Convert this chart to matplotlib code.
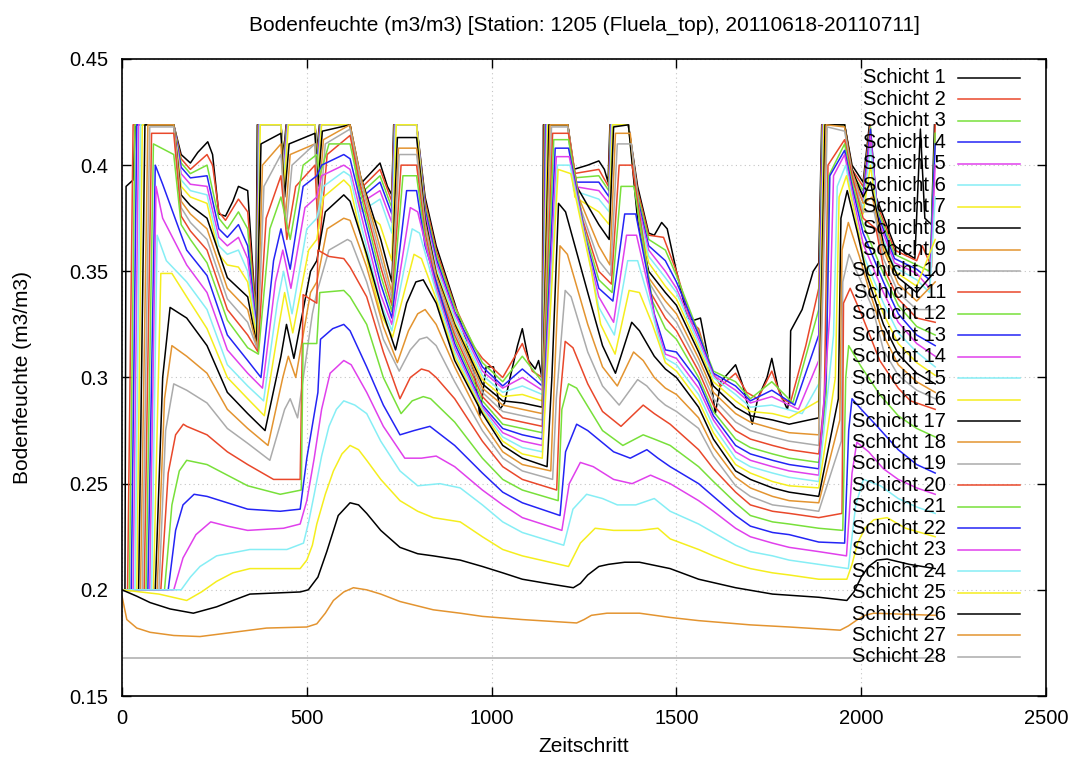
import matplotlib
matplotlib.use("Agg")
import matplotlib.pyplot as plt

plt.rcParams['font.family'] = ['Liberation Sans', 'DejaVu Sans']

title = "Bodenfeuchte (m3/m3) [Station: 1205 (Fluela_top), 20110618-20110711]"
xlabel = "Zeitschritt"
ylabel = "Bodenfeuchte (m3/m3)"

xticks = [0, 500, 1000, 1500, 2000, 2500]
yticks = [0.15, 0.20, 0.25, 0.30, 0.35, 0.40, 0.45]
yticklabels = ["0.15", "0.2", "0.25", "0.3", "0.35", "0.4", "0.45"]

# (zeitschritt, bodenfeuchte), one list per layer
s1 = [(0, .200), (8, .200), (11, .390), (30, .393), (36, .419), (140, .419), (160, .405), (185, .401), (205, .406), (232, .411), (245, .405), (262, .377), (280, .376), (300, .383), (315, .390), (340, .388), (362, .330), (366, .419), (430, .419), (437, .405), (444, .419), (522, .419), (528, .408), (534, .419), (617, .419), (640, .390), (655, .393), (698, .401), (718, .390), (730, .386), (735, .419), (797, .419), (820, .385), (850, .362), (900, .335), (930, .318), (955, .300), (968, .282), (985, .305), (1005, .305), (1022, .285), (1035, .288), (1050, .300), (1070, .315), (1083, .323), (1100, .308), (1118, .304), (1127, .308), (1136, .300), (1140, .419), (1206, .419), (1222, .398), (1260, .400), (1290, .402), (1305, .398), (1315, .392), (1320, .419), (1370, .419), (1395, .390), (1425, .368), (1440, .367), (1460, .373), (1475, .370), (1500, .350), (1530, .328), (1548, .327), (1565, .328), (1585, .310), (1605, .283), (1620, .298), (1640, .302), (1660, .306), (1680, .296), (1705, .278), (1720, .290), (1745, .300), (1758, .309), (1775, .295), (1800, .285), (1806, .290), (1809, .322), (1840, .332), (1870, .350), (1885, .354), (1893, .419), (1955, .419), (1975, .400), (2005, .392), (2022, .419), (2040, .385), (2090, .362), (2145, .356), (2160, .417), (2172, .375), (2190, .372), (2198, .419)]
s2 = [(0, .200), (15, .200), (30, .419), (140, .419), (160, .403), (185, .398), (230, .405), (245, .400), (262, .378), (280, .374), (315, .384), (340, .378), (363, .328), (368, .419), (430, .419), (437, .402), (445, .419), (522, .419), (528, .405), (535, .419), (617, .419), (640, .388), (698, .398), (730, .383), (736, .419), (797, .419), (820, .383), (850, .360), (900, .334), (950, .315), (975, .309), (1030, .300), (1083, .316), (1110, .303), (1137, .300), (1142, .419), (1206, .419), (1222, .396), (1290, .398), (1316, .390), (1321, .419), (1370, .419), (1395, .388), (1425, .367), (1465, .366), (1500, .350), (1540, .326), (1560, .323), (1590, .305), (1620, .296), (1660, .302), (1690, .293), (1720, .290), (1758, .303), (1785, .290), (1808, .288), (1850, .315), (1885, .342), (1894, .419), (1955, .419), (1975, .398), (2005, .390), (2024, .419), (2040, .383), (2090, .360), (2150, .355), (2165, .362), (2190, .352), (2200, .419)]
s3 = [(0, .200), (20, .200), (35, .419), (140, .419), (160, .401), (185, .396), (230, .400), (262, .375), (285, .370), (315, .378), (340, .370), (363, .326), (369, .419), (430, .419), (437, .400), (446, .419), (522, .419), (528, .402), (536, .419), (617, .419), (642, .386), (698, .395), (730, .380), (737, .419), (797, .419), (820, .381), (850, .358), (900, .333), (975, .307), (1030, .298), (1083, .310), (1137, .298), (1144, .419), (1206, .419), (1222, .394), (1290, .395), (1317, .388), (1322, .419), (1370, .419), (1395, .386), (1425, .365), (1470, .360), (1500, .348), (1560, .321), (1600, .303), (1660, .298), (1700, .290), (1758, .298), (1815, .288), (1885, .332), (1895, .419), (1955, .419), (1975, .396), (2005, .388), (2025, .418), (2042, .380), (2090, .358), (2150, .353), (2185, .350), (2200, .415)]
s4 = [(0, .200), (25, .200), (40, .419), (140, .419), (160, .399), (185, .394), (230, .395), (262, .370), (285, .366), (315, .372), (340, .362), (364, .324), (370, .419), (430, .419), (437, .398), (447, .419), (522, .419), (528, .400), (537, .419), (617, .419), (643, .384), (698, .392), (730, .377), (738, .419), (797, .419), (820, .379), (850, .356), (900, .331), (975, .305), (1030, .296), (1083, .304), (1137, .296), (1146, .419), (1206, .419), (1222, .392), (1290, .392), (1318, .385), (1323, .419), (1370, .419), (1395, .384), (1425, .362), (1470, .355), (1500, .345), (1560, .320), (1600, .302), (1660, .296), (1700, .289), (1758, .294), (1820, .287), (1885, .320), (1896, .419), (1955, .419), (1975, .394), (2005, .386), (2025, .417), (2044, .377), (2090, .356), (2150, .351), (2185, .346), (2200, .410)]
s5 = [(0, .200), (30, .200), (45, .419), (140, .419), (160, .396), (185, .391), (230, .390), (262, .366), (285, .362), (315, .366), (340, .356), (364, .322), (371, .419), (430, .419), (437, .396), (448, .419), (522, .419), (528, .397), (538, .419), (617, .419), (644, .382), (698, .388), (730, .373), (739, .419), (797, .419), (820, .377), (850, .354), (900, .330), (975, .303), (1030, .295), (1083, .300), (1137, .294), (1148, .419), (1206, .419), (1222, .390), (1290, .388), (1318, .382), (1324, .419), (1370, .419), (1395, .382), (1425, .360), (1470, .350), (1500, .342), (1560, .318), (1600, .301), (1660, .294), (1700, .288), (1758, .291), (1830, .285), (1885, .308), (1897, .419), (1955, .419), (1975, .392), (2005, .383), (2025, .414), (2046, .374), (2090, .354), (2150, .349), (2185, .342), (2200, .400)]
s6 = [(0, .200), (35, .200), (50, .419), (140, .419), (160, .393), (185, .388), (230, .386), (262, .362), (285, .358), (315, .360), (340, .350), (365, .320), (372, .419), (430, .419), (438, .394), (449, .419), (522, .419), (529, .395), (539, .419), (617, .419), (645, .378), (698, .384), (730, .368), (740, .419), (797, .419), (820, .375), (850, .352), (900, .328), (975, .301), (1030, .293), (1083, .296), (1137, .292), (1150, .419), (1206, .419), (1222, .388), (1290, .384), (1318, .378), (1325, .419), (1370, .419), (1395, .380), (1425, .357), (1470, .347), (1500, .340), (1560, .316), (1600, .300), (1660, .292), (1700, .286), (1758, .287), (1840, .283), (1885, .297), (1898, .419), (1955, .419), (1975, .390), (2005, .380), (2025, .408), (2048, .370), (2090, .352), (2150, .346), (2185, .340), (2200, .385)]
s7 = [(0, .200), (40, .200), (55, .419), (140, .419), (160, .390), (185, .385), (230, .382), (262, .358), (285, .353), (315, .352), (340, .345), (365, .318), (374, .419), (430, .419), (439, .390), (450, .419), (522, .419), (529, .392), (540, .419), (617, .419), (645, .380), (698, .372), (730, .355), (742, .419), (797, .419), (820, .373), (850, .350), (900, .326), (975, .299), (1030, .291), (1083, .292), (1137, .289), (1152, .419), (1206, .419), (1225, .385), (1290, .378), (1318, .372), (1327, .419), (1370, .419), (1395, .377), (1425, .354), (1470, .343), (1500, .337), (1560, .314), (1600, .298), (1660, .289), (1700, .284), (1760, .283), (1805, .281), (1885, .289), (1899, .419), (1955, .419), (1975, .388), (2005, .377), (2025, .400), (2050, .366), (2090, .350), (2150, .343), (2200, .365)]
s8 = [(0, .200), (45, .200), (62, .419), (140, .419), (160, .386), (185, .381), (230, .375), (285, .347), (340, .338), (364, .316), (376, .410), (430, .415), (440, .385), (452, .410), (522, .415), (530, .390), (542, .416), (617, .419), (645, .395), (700, .365), (730, .345), (745, .413), (797, .413), (820, .375), (850, .349), (900, .325), (975, .297), (1030, .289), (1083, .288), (1137, .286), (1155, .419), (1206, .419), (1230, .390), (1290, .372), (1318, .365), (1330, .418), (1370, .419), (1395, .374), (1425, .350), (1470, .340), (1500, .334), (1560, .312), (1600, .296), (1660, .286), (1700, .282), (1760, .280), (1805, .278), (1885, .281), (1902, .419), (1955, .419), (1975, .398), (2005, .385), (2025, .392), (2060, .363), (2100, .347), (2150, .340), (2200, .350)]
s9 = [(0, .200), (50, .200), (70, .419), (140, .419), (160, .383), (185, .377), (230, .370), (285, .342), (340, .332), (366, .314), (380, .400), (430, .410), (442, .375), (455, .405), (522, .410), (531, .380), (545, .412), (617, .419), (645, .395), (700, .360), (730, .340), (748, .408), (797, .408), (820, .373), (850, .348), (900, .324), (975, .295), (1030, .287), (1083, .285), (1137, .283), (1158, .419), (1206, .419), (1235, .385), (1290, .362), (1320, .353), (1335, .415), (1375, .415), (1400, .372), (1425, .347), (1470, .336), (1500, .330), (1560, .309), (1600, .293), (1660, .283), (1700, .279), (1760, .276), (1805, .274), (1885, .273), (1905, .419), (1955, .418), (1975, .397), (2005, .382), (2030, .385), (2060, .360), (2100, .344), (2150, .336), (2200, .345)]
s10 = [(0, .200), (55, .200), (75, .418), (140, .418), (160, .380), (185, .373), (230, .365), (285, .337), (340, .326), (367, .313), (384, .390), (430, .405), (444, .370), (460, .400), (522, .410), (532, .370), (550, .410), (617, .417), (645, .393), (700, .356), (730, .337), (750, .405), (797, .405), (820, .371), (850, .346), (900, .322), (975, .293), (1030, .284), (1083, .282), (1137, .280), (1162, .418), (1206, .418), (1240, .380), (1290, .355), (1322, .348), (1340, .410), (1378, .410), (1405, .370), (1425, .345), (1470, .332), (1500, .326), (1560, .306), (1600, .290), (1660, .279), (1700, .275), (1760, .272), (1805, .270), (1885, .268), (1908, .418), (1955, .416), (1975, .396), (2005, .378), (2035, .378), (2060, .356), (2100, .340), (2150, .332), (2200, .332)]
s11 = [(0, .200), (60, .200), (80, .415), (140, .415), (160, .376), (185, .369), (230, .360), (285, .332), (340, .320), (368, .312), (390, .375), (430, .395), (446, .365), (470, .390), (522, .400), (533, .360), (555, .405), (617, .414), (645, .390), (700, .352), (730, .334), (755, .400), (797, .400), (820, .368), (850, .344), (900, .320), (975, .291), (1030, .281), (1083, .279), (1137, .277), (1165, .415), (1208, .415), (1245, .375), (1290, .350), (1324, .344), (1345, .400), (1380, .400), (1410, .365), (1430, .340), (1470, .328), (1500, .322), (1560, .303), (1600, .287), (1660, .275), (1700, .271), (1760, .268), (1805, .266), (1885, .264), (1900, .290), (1910, .400), (1955, .412), (1975, .395), (2005, .375), (2040, .370), (2060, .352), (2100, .337), (2150, .328), (2200, .326)]
s12 = [(0, .200), (65, .200), (85, .410), (140, .405), (160, .372), (185, .365), (230, .354), (285, .327), (340, .314), (369, .311), (400, .370), (430, .385), (455, .365), (490, .400), (527, .405), (535, .395), (560, .410), (617, .410), (645, .387), (700, .348), (730, .331), (760, .395), (797, .395), (820, .365), (850, .342), (900, .318), (975, .289), (1030, .278), (1083, .276), (1137, .274), (1168, .412), (1208, .412), (1250, .370), (1290, .346), (1326, .340), (1350, .390), (1385, .390), (1415, .358), (1435, .336), (1470, .323), (1500, .318), (1560, .300), (1600, .284), (1660, .271), (1700, .267), (1760, .264), (1805, .262), (1885, .260), (1905, .290), (1912, .395), (1955, .410), (1975, .392), (2005, .372), (2060, .349), (2100, .334), (2150, .324), (2200, .320)]
s13 = [(0, .200), (70, .200), (90, .400), (110, .391), (175, .360), (230, .348), (285, .320), (340, .308), (376, .300), (410, .355), (430, .370), (455, .351), (490, .390), (527, .395), (540, .400), (600, .405), (617, .403), (645, .383), (700, .344), (730, .328), (770, .388), (797, .388), (820, .362), (850, .345), (900, .316), (975, .287), (1030, .276), (1083, .273), (1137, .271), (1172, .408), (1208, .408), (1255, .365), (1290, .342), (1328, .336), (1360, .377), (1390, .377), (1420, .350), (1440, .330), (1470, .313), (1500, .312), (1560, .298), (1600, .282), (1660, .268), (1700, .264), (1760, .261), (1805, .259), (1885, .257), (1905, .300), (1915, .395), (1955, .407), (1975, .390), (2005, .368), (2060, .345), (2100, .330), (2150, .320), (2200, .315)]
s14 = [(0, .200), (75, .200), (92, .390), (110, .375), (175, .353), (230, .340), (285, .313), (340, .302), (380, .295), (415, .345), (435, .360), (457, .342), (495, .380), (527, .385), (540, .395), (600, .400), (617, .398), (645, .378), (700, .339), (730, .325), (780, .380), (800, .378), (850, .342), (900, .314), (975, .286), (1030, .274), (1083, .270), (1137, .268), (1175, .404), (1210, .404), (1260, .360), (1290, .338), (1330, .326), (1365, .367), (1392, .367), (1425, .342), (1445, .325), (1470, .311), (1500, .309), (1560, .295), (1600, .280), (1660, .265), (1700, .261), (1760, .258), (1805, .256), (1885, .254), (1915, .330), (1925, .395), (1955, .405), (1978, .385), (2005, .363), (2060, .340), (2100, .326), (2150, .316), (2200, .310)]
s15 = [(0, .200), (80, .200), (95, .367), (120, .355), (175, .345), (230, .332), (285, .306), (340, .296), (383, .289), (420, .335), (437, .350), (460, .330), (500, .370), (527, .375), (545, .390), (600, .397), (617, .395), (645, .373), (700, .335), (730, .322), (785, .370), (805, .368), (850, .340), (900, .312), (975, .285), (1030, .272), (1083, .267), (1137, .265), (1178, .400), (1212, .400), (1265, .355), (1290, .333), (1332, .320), (1368, .355), (1395, .355), (1430, .334), (1450, .320), (1470, .309), (1500, .306), (1560, .292), (1600, .277), (1660, .262), (1700, .258), (1760, .255), (1805, .253), (1885, .251), (1925, .320), (1935, .390), (1958, .400), (1980, .380), (2005, .358), (2060, .335), (2100, .321), (2150, .312), (2200, .305)]
s16 = [(0, .200), (85, .200), (105, .349), (135, .349), (175, .338), (230, .323), (285, .300), (340, .290), (385, .282), (425, .325), (440, .340), (462, .321), (505, .360), (527, .365), (545, .385), (600, .393), (617, .390), (645, .368), (700, .330), (732, .319), (790, .358), (810, .356), (850, .337), (900, .310), (975, .284), (1030, .270), (1083, .264), (1137, .262), (1180, .398), (1214, .396), (1270, .350), (1295, .325), (1334, .311), (1372, .341), (1400, .340), (1435, .325), (1455, .315), (1470, .307), (1500, .303), (1560, .289), (1600, .274), (1660, .259), (1700, .255), (1760, .251), (1805, .249), (1885, .248), (1930, .300), (1940, .385), (1960, .395), (1985, .375), (2010, .353), (2060, .330), (2100, .316), (2150, .307), (2200, .301)]
s17 = [(0, .200), (90, .200), (110, .300), (130, .333), (175, .328), (230, .315), (285, .293), (340, .283), (387, .275), (430, .310), (445, .325), (465, .309), (510, .350), (527, .355), (550, .378), (600, .386), (617, .383), (662, .358), (707, .330), (740, .313), (770, .335), (795, .345), (815, .346), (850, .335), (900, .308), (975, .283), (1030, .268), (1083, .262), (1150, .258), (1163, .300), (1181, .382), (1200, .378), (1260, .340), (1300, .315), (1335, .302), (1379, .326), (1400, .322), (1440, .310), (1470, .304), (1500, .300), (1560, .286), (1600, .271), (1660, .256), (1700, .252), (1760, .248), (1805, .246), (1885, .244), (1938, .290), (1945, .375), (1962, .388), (1990, .368), (2015, .348), (2060, .325), (2100, .311), (2150, .302), (2200, .297)]
s18 = [(0, .200), (95, .200), (115, .290), (135, .315), (175, .310), (230, .302), (285, .285), (340, .276), (395, .268), (435, .300), (450, .310), (470, .300), (510, .340), (527, .345), (555, .370), (600, .375), (617, .374), (662, .352), (707, .324), (745, .307), (775, .322), (800, .330), (820, .332), (850, .325), (900, .305), (975, .279), (1030, .265), (1083, .259), (1160, .256), (1170, .300), (1185, .362), (1205, .358), (1260, .325), (1300, .305), (1340, .296), (1384, .312), (1410, .308), (1440, .300), (1470, .295), (1500, .292), (1560, .281), (1600, .267), (1660, .253), (1700, .248), (1760, .244), (1805, .242), (1885, .241), (1942, .280), (1948, .360), (1965, .373), (1995, .357), (2020, .342), (2060, .320), (2100, .306), (2150, .298), (2200, .293)]
s19 = [(0, .200), (100, .200), (118, .275), (140, .297), (175, .294), (230, .288), (285, .276), (340, .269), (400, .261), (440, .285), (455, .290), (475, .281), (515, .330), (527, .340), (560, .360), (610, .365), (620, .364), (662, .345), (707, .318), (750, .303), (780, .313), (805, .318), (825, .319), (850, .315), (900, .298), (975, .275), (1030, .262), (1083, .256), (1165, .252), (1175, .290), (1199, .341), (1215, .338), (1260, .312), (1300, .296), (1345, .287), (1395, .299), (1420, .296), (1450, .290), (1470, .287), (1500, .284), (1560, .276), (1600, .263), (1660, .249), (1700, .244), (1760, .240), (1805, .239), (1885, .237), (1946, .270), (1950, .345), (1967, .358), (2000, .345), (2030, .333), (2060, .313), (2100, .301), (2150, .294), (2200, .290)]
s20 = [(0, .200), (105, .200), (125, .255), (145, .273), (166, .278), (175, .277), (230, .273), (285, .265), (340, .259), (410, .252), (482, .252), (490, .339), (527, .335), (530, .360), (560, .357), (600, .356), (617, .352), (662, .338), (707, .312), (752, .290), (780, .300), (810, .304), (830, .303), (850, .300), (900, .290), (975, .270), (1030, .258), (1083, .252), (1176, .247), (1185, .290), (1199, .317), (1220, .314), (1260, .297), (1300, .284), (1350, .277), (1410, .287), (1440, .283), (1483, .278), (1560, .266), (1600, .257), (1660, .246), (1700, .240), (1760, .237), (1805, .236), (1885, .234), (1948, .236), (1952, .335), (1970, .342), (2000, .330), (2050, .308), (2100, .295), (2133, .289), (2200, .285)]
s21 = [(0, .200), (115, .200), (135, .240), (155, .256), (175, .261), (230, .259), (285, .254), (340, .249), (428, .245), (485, .247), (490, .316), (527, .316), (535, .340), (600, .341), (617, .338), (662, .325), (707, .300), (755, .283), (785, .289), (815, .291), (835, .290), (900, .279), (975, .262), (1030, .252), (1083, .247), (1180, .242), (1190, .285), (1208, .297), (1230, .295), (1300, .275), (1355, .268), (1410, .273), (1440, .271), (1483, .268), (1560, .258), (1600, .251), (1660, .241), (1700, .235), (1760, .232), (1805, .231), (1885, .229), (1950, .228), (1958, .300), (1966, .315), (2000, .305), (2050, .292), (2100, .282), (2150, .276), (2200, .272)]
s22 = [(0, .200), (125, .200), (145, .228), (165, .240), (195, .245), (230, .244), (285, .241), (340, .238), (428, .237), (482, .238), (500, .262), (530, .293), (537, .318), (570, .323), (600, .325), (617, .322), (662, .305), (707, .287), (752, .273), (790, .275), (833, .277), (900, .268), (975, .255), (1030, .246), (1083, .241), (1185, .235), (1200, .265), (1230, .278), (1260, .275), (1330, .265), (1375, .262), (1420, .266), (1450, .262), (1483, .258), (1560, .250), (1600, .244), (1660, .235), (1700, .230), (1760, .227), (1805, .226), (1885, .2225), (1955, .222), (1966, .275), (1975, .290), (2000, .285), (2043, .277), (2100, .266), (2150, .259), (2200, .255)]
s23 = [(0, .200), (140, .200), (165, .215), (200, .226), (240, .232), (285, .230), (340, .228), (437, .229), (482, .231), (500, .242), (520, .262), (540, .285), (563, .302), (600, .308), (620, .306), (662, .293), (707, .277), (765, .262), (810, .262), (850, .263), (900, .258), (975, .247), (1030, .240), (1083, .234), (1190, .228), (1210, .250), (1240, .260), (1275, .258), (1330, .252), (1380, .250), (1430, .254), (1483, .250), (1560, .242), (1600, .237), (1660, .229), (1700, .225), (1760, .222), (1805, .220), (1885, .218), (1960, .216), (1975, .255), (1988, .2695), (2020, .265), (2060, .257), (2100, .252), (2150, .248), (2200, .245)]
s24 = [(0, .200), (160, .200), (185, .206), (211, .211), (256, .216), (346, .219), (446, .219), (491, .222), (505, .232), (520, .245), (540, .263), (560, .277), (580, .285), (600, .289), (630, .287), (662, .283), (700, .270), (752, .256), (800, .249), (860, .250), (915, .248), (975, .240), (1030, .232), (1083, .227), (1195, .221), (1220, .238), (1257, .245), (1300, .243), (1340, .240), (1390, .240), (1440, .243), (1483, .237), (1560, .231), (1600, .227), (1660, .221), (1700, .218), (1760, .216), (1805, .214), (1885, .212), (1965, .210), (1985, .240), (2006, .252), (2052, .249), (2100, .243), (2150, .239), (2200, .236)]
s25 = [(0, .200), (100, .198), (175, .195), (215, .199), (256, .204), (300, .208), (346, .210), (482, .210), (500, .214), (515, .221), (527, .231), (550, .245), (572, .256), (595, .264), (617, .268), (640, .266), (662, .261), (700, .252), (752, .242), (800, .237), (842, .234), (915, .232), (975, .225), (1030, .219), (1083, .216), (1208, .211), (1240, .222), (1280, .229), (1330, .228), (1400, .228), (1450, .229), (1483, .224), (1560, .219), (1600, .216), (1660, .212), (1700, .210), (1760, .208), (1805, .207), (1885, .205), (1961, .205), (1975, .212), (1990, .222), (2010, .229), (2034, .233), (2070, .234), (2120, .229), (2200, .225)]
s26 = [(0, .200), (40, .197), (76, .194), (130, .191), (193, .189), (256, .192), (300, .195), (346, .198), (482, .199), (504, .200), (530, .206), (554, .218), (585, .235), (617, .241), (640, .240), (662, .236), (700, .228), (752, .220), (800, .217), (842, .216), (915, .214), (975, .211), (1030, .208), (1083, .205), (1150, .203), (1221, .201), (1240, .203), (1260, .207), (1290, .211), (1316, .212), (1360, .213), (1400, .213), (1483, .210), (1560, .205), (1660, .201), (1760, .198), (1885, .1965), (1961, .195), (1980, .199), (2000, .206), (2020, .211), (2043, .214), (2070, .2145), (2130, .212), (2200, .210)]
s27 = [(0, .197), (13, .186), (40, .182), (76, .180), (140, .1785), (211, .178), (301, .180), (391, .182), (500, .1825), (527, .184), (550, .189), (572, .195), (600, .199), (626, .201), (662, .200), (700, .198), (752, .1945), (842, .1906), (915, .189), (975, .1875), (1083, .186), (1230, .1844), (1250, .186), (1270, .188), (1312, .189), (1400, .189), (1483, .187), (1560, .1855), (1700, .1835), (1805, .1825), (1943, .181), (1965, .183), (1990, .186), (2010, .188), (2034, .189), (2200, .188)]
s28 = [(0, .168), (2200, .168)]

layers = [s1, s2, s3, s4, s5, s6, s7, s8, s9, s10, s11, s12, s13, s14,
          s15, s16, s17, s18, s19, s20, s21, s22, s23, s24, s25, s26, s27, s28]
labels = ["Schicht %d" % (i + 1) for i in range(len(layers))]

# gnuplot line colours: layer 1 black, then a 9 colour cycle
cycle = ['#e9482b', '#78e03a', '#2424f5', '#e040ec', '#86eef5',
         '#f5ee1e', '#000000', '#e39430', '#ababab']
colors = ['#000000'] + [cycle[i % 9] for i in range(len(layers) - 1)]

fig = plt.figure(figsize=(10.74, 7.6), dpi=100)
ax = fig.add_axes([0.1136, 0.0842, 0.8604, 0.8382])

for i, pts in enumerate(layers):
    t = [p[0] for p in pts]
    v = [p[1] for p in pts]
    ax.plot(t, v, color=colors[i], lw=1.1, solid_joinstyle='round')

ax.set_xlim(0, 2500)
ax.set_ylim(0.15, 0.45)
ax.set_xticks(xticks)
ax.set_yticks(yticks)
ax.set_yticklabels(yticklabels)
ax.tick_params(direction='in', top=True, right=True, length=6.5, width=1, labelsize=14.5)
ax.tick_params(axis='y', pad=10)
ax.tick_params(axis='x', pad=9)
ax.grid(True, color='#c4c4c4', linestyle=(0, (1, 3)), linewidth=0.8)
ax.set_axisbelow(True)
for sp in ax.spines.values():
    sp.set_linewidth(1.2)

ax.set_title(title, fontsize=15, pad=20)
ax.set_xlabel(xlabel, fontsize=15)
ax.xaxis.set_label_coords(0.5, -0.064)
ax.set_ylabel(ylabel, fontsize=15)
ax.yaxis.set_label_coords(-0.097, 0.5)

# key, gnuplot style: right aligned text, sample line to the right
for i, lab in enumerate(labels):
    y = (696 - (78 + i * 21.44)) / 637
    ax.text(0.8918, y, lab, transform=ax.transAxes, ha='right', va='center',
            fontsize=14.5, zorder=6)
    ax.plot([0.9048, 0.9719], [y, y], transform=ax.transAxes, color=colors[i],
            lw=1.1, zorder=6, clip_on=False)

plt.savefig("out.png", dpi=100)
plt.close()
